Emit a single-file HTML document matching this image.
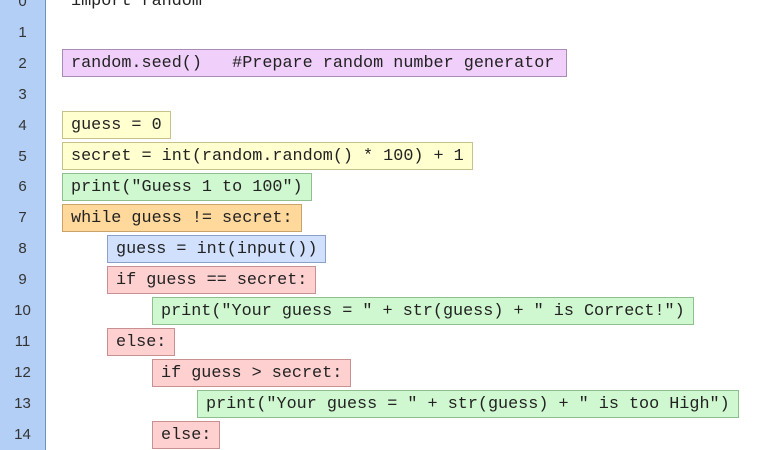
<!DOCTYPE html>
<html><head><style>
body{margin:0;width:768px;height:450px;background:#fff;position:relative;overflow:hidden;font-family:"Liberation Mono",monospace;}
#g{position:absolute;left:0;top:0;width:45px;height:450px;background:#b3cff5;border-right:1px solid #6f8fc0;}
.n{position:absolute;left:0;width:45px;text-align:center;font-family:"Liberation Sans",sans-serif;font-size:15px;color:#333;line-height:20px;}
.b{position:absolute;height:26px;line-height:27px;padding:0 8px;font-size:16.8px;color:#222;white-space:pre;border:1px solid;}
.p{background:#f0d0fa;border-color:#a98bb5}
.y{background:#ffffd0;border-color:#c8c28a}
.gr{background:#d0f8d0;border-color:#8fbf8f}
.o{background:#ffd99c;border-color:#c9a46a}
.bl{background:#d0e0fd;border-color:#8aa0c8}
.r{background:#ffd0d0;border-color:#c89090}
</style></head><body>
<div id="g"></div>
<div class="n" style="top:-8px">0</div>
<div class="n" style="top:23px">1</div>
<div class="n" style="top:54px">2</div>
<div class="n" style="top:85px">3</div>
<div class="n" style="top:116px">4</div>
<div class="n" style="top:147px">5</div>
<div class="n" style="top:177px">6</div>
<div class="n" style="top:208px">7</div>
<div class="n" style="top:239px">8</div>
<div class="n" style="top:270px">9</div>
<div class="n" style="top:301px">10</div>
<div class="n" style="top:332px">11</div>
<div class="n" style="top:363px">12</div>
<div class="n" style="top:394px">13</div>
<div class="n" style="top:425px">14</div>
<div class="b" style="left:62px;top:-13px;border-color:transparent">import random</div>
<div class="b p" style="left:62px;top:49px;width:487px">random.seed()   #Prepare random number generator</div>
<div class="b y" style="left:62px;top:111px">guess = 0</div>
<div class="b y" style="left:62px;top:142px">secret = int(random.random() * 100) + 1</div>
<div class="b gr" style="left:62px;top:173px">print("Guess 1 to 100")</div>
<div class="b o" style="left:62px;top:204px">while guess != secret:</div>
<div class="b bl" style="left:107px;top:235px">guess = int(input())</div>
<div class="b r" style="left:107px;top:266px">if guess == secret:</div>
<div class="b gr" style="left:152px;top:297px">print("Your guess = " + str(guess) + " is Correct!")</div>
<div class="b r" style="left:107px;top:328px">else:</div>
<div class="b r" style="left:152px;top:359px">if guess &gt; secret:</div>
<div class="b gr" style="left:197px;top:390px">print("Your guess = " + str(guess) + " is too High")</div>
<div class="b r" style="left:152px;top:421px">else:</div>
</body></html>
